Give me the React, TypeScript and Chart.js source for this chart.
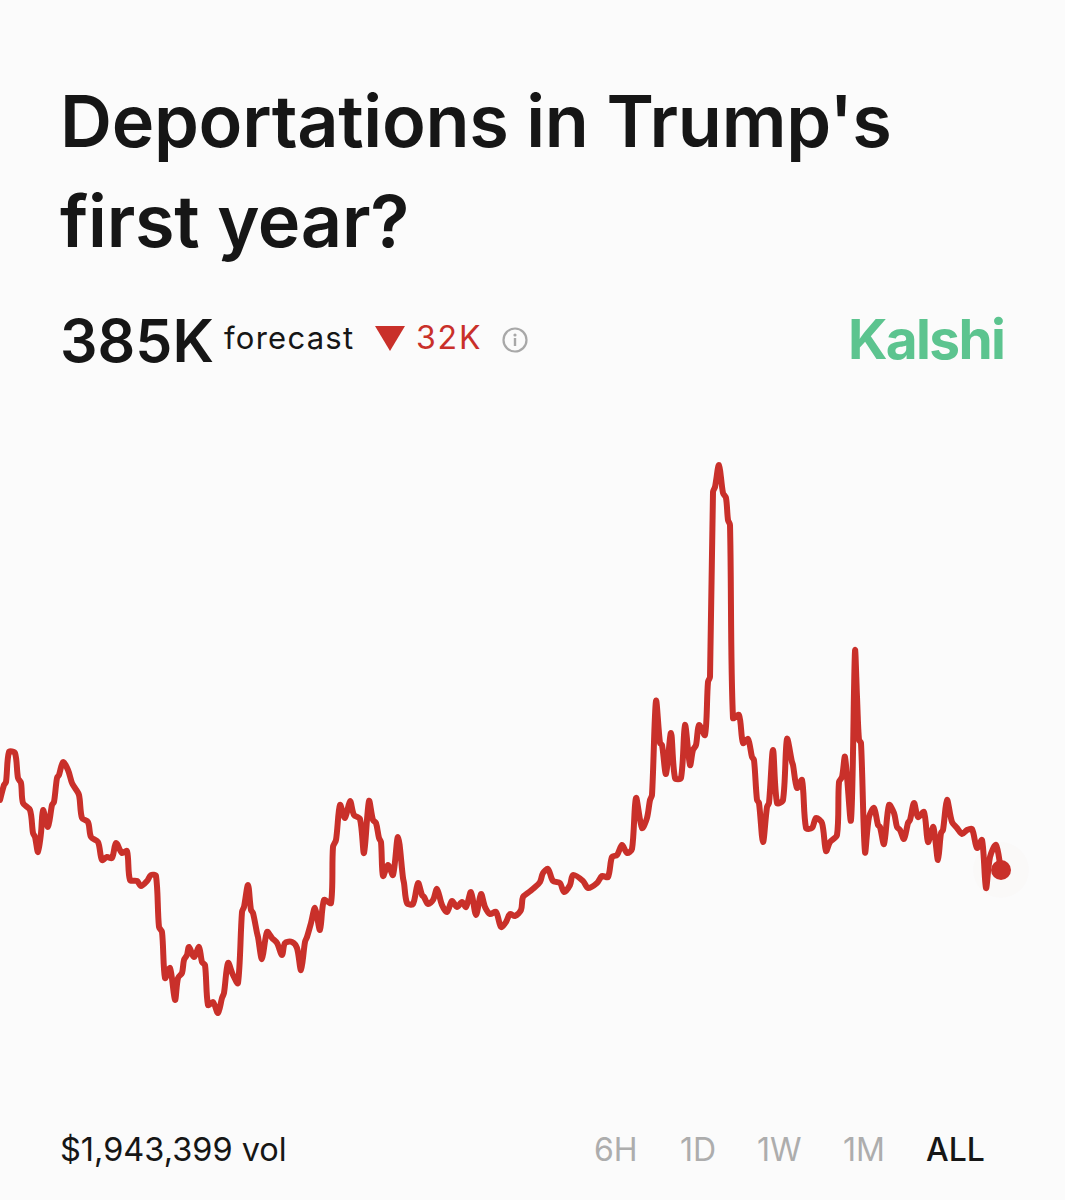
import { useEffect, useRef } from 'react';
import Chart from 'chart.js/auto';

// market hours since open
const hours = [
  0, 4, 6, 9, 15, 18, 21, 23, 30, 33, 35, 38, 41, 43, 48, 52, 54, 57, 59, 63,
  68, 72, 75, 79, 82, 88, 91, 98, 102, 107, 112, 116, 122, 127, 130, 137, 141, 147, 151, 156,
  159, 162, 165, 170, 175, 178, 182, 184, 187, 189, 194, 199, 202, 205, 208, 213, 218, 222, 224, 228,
  233, 238, 242, 244, 248, 251, 253, 257, 258, 262, 267, 272, 277, 282, 285, 292, 297, 301, 305, 307,
  311, 315, 320, 324, 331, 333, 336, 340, 345, 350, 354, 360, 364, 369, 373, 376, 379, 381, 383, 388,
  393, 398, 403, 404, 407, 413, 418, 422, 424, 428, 433, 437, 442, 447, 452, 457, 462, 466, 471, 476,
  481, 485, 490, 496, 501, 506, 510, 515, 521, 523, 529, 534, 540, 543, 548, 553, 560, 564, 570, 573,
  583, 588, 597, 602, 608, 612, 617, 622, 627, 632, 636, 642, 647, 650, 652, 656, 660, 662, 666, 671,
  675, 681, 685, 690, 693, 696, 699, 705, 708, 710, 713, 715, 719, 723, 726, 728, 730, 733, 739, 743,
  748, 752, 754, 757, 759, 763, 767, 769, 773, 777, 783, 787, 792, 793, 797, 802, 806, 812, 816, 822,
  826, 830, 837, 839, 842, 845, 851, 855, 857, 859, 861, 865, 869, 874, 878, 880, 884, 889, 894, 897,
  900, 904, 908, 910, 914, 918, 924, 928, 933, 935, 938, 941, 943, 947, 952, 957, 962, 967, 972, 977,
  982, 986, 990, 996, 1001,
];

// forecast in thousands of deportations
const forecastK = [
  420, 427.5, 429, 444, 443.5, 431, 428.5, 418.5, 415, 403.5, 401.5, 394, 403.5, 415, 406.5, 417.5, 419, 431, 432.5, 439,
  435, 428.5, 426, 422.5, 411, 409, 401.5, 399, 390, 391.5, 391, 398.5, 393.5, 394.5, 380, 379.5, 377, 379.5, 382.5, 382,
  356.5, 354, 331, 336, 320, 331, 333.5, 340, 342.5, 346.5, 341.5, 346.5, 339, 337.5, 317.5, 319, 313.5, 321, 323.5, 338.5,
  332.5, 328.5, 364, 366.5, 377.5, 365, 363.5, 353.5, 351.5, 340.5, 354, 351, 348.5, 342.5, 348.5, 349, 346, 335, 349, 351.5,
  358.5, 366, 355, 370, 368.5, 396.5, 400, 417.5, 411, 419.5, 412.5, 410.5, 393.5, 419.5, 410, 408.5, 401, 399, 382, 387.5,
  382.5, 401.5, 381, 378.5, 368.5, 368, 378.5, 372.5, 371.5, 368, 370, 375.5, 367.5, 364, 369.5, 366.5, 369, 366.5, 374, 362.5,
  373, 366.5, 363, 364, 356.5, 359, 363, 362, 365, 371.5, 374, 376, 379, 383.5, 385.5, 379.5, 378.5, 374, 377.5, 382.5,
  379.5, 376, 378.5, 382, 381.5, 391.5, 392.5, 397.5, 393.5, 395.5, 421, 406, 411, 420, 422.5, 469.5, 448.5, 447.5, 433, 453.5,
  431, 431, 457.5, 437.5, 445, 447.5, 457.5, 452.5, 479, 481.5, 574, 576.5, 587.5, 573.5, 571, 560, 557.5, 461, 462.5, 448.5,
  450.5, 441.5, 440, 420, 418.5, 399, 416.5, 418.5, 445, 418.5, 420, 450.5, 439, 437.5, 426, 430, 406, 406, 411, 408.5,
  394.5, 399, 402.5, 429, 431.5, 441.5, 410, 494.5, 471.5, 450, 448.5, 394, 411.5, 416, 407.5, 406.5, 398, 417.5, 413.5, 406.5,
  405, 400.5, 408.5, 410, 418.5, 411.5, 414, 399, 406.5, 401.5, 390, 403.5, 405, 420, 409, 406, 403, 405, 405.5, 396,
  400, 376, 391.5, 397.5, 385,
];

const timeframes = ['6H', '1D', '1W', '1M', 'ALL'];
const timeframeLeft = [594, 680, 757, 843, 926];

const RED = '#c9302a';
const INK = '#161616';
const FONT = 'Inter, sans-serif';

function Label({ left, top, size, weight = 400, color = INK, spacing = 0, children }: any) {
  return (
    <div
      style={{
        position: 'absolute',
        left,
        top,
        fontSize: size,
        fontWeight: weight,
        color,
        letterSpacing: spacing,
        lineHeight: 1,
        whiteSpace: 'nowrap',
      }}
    >
      {children}
    </div>
  );
}

export default function App() {
  const chartRef = useRef<HTMLCanvasElement>(null);

  useEffect(() => {
    document.body.style.margin = '0';
    if (!chartRef.current) return;
    const points = hours.map((h, i) => ({ x: h, y: forecastK[i] }));
    const last = points[points.length - 1];

    const chart = new Chart(chartRef.current, {
      type: 'line',
      data: {
        datasets: [
          {
            data: points,
            borderColor: RED,
            borderWidth: 6,
            borderJoinStyle: 'round',
            borderCapStyle: 'round',
            tension: 0.3,
            pointRadius: 0,
            order: 2,
          },
          {
            // end marker with its faint halo
            data: [last],
            pointRadius: 28,
            pointBackgroundColor: 'rgba(201,48,42,0.012)',
            pointBorderWidth: 0,
            showLine: false,
            order: 3,
          },
          {
            data: [last],
            pointRadius: 10,
            pointBackgroundColor: RED,
            pointBorderWidth: 0,
            showLine: false,
            order: 1,
          },
        ],
      },
      options: {
        animation: false,
        responsive: false,
        maintainAspectRatio: false,
        layout: { padding: 0, autoPadding: false },
        plugins: { legend: { display: false }, tooltip: { enabled: false } },
        scales: {
          x: { type: 'linear', display: false, min: 0, max: 1065 },
          y: { type: 'linear', display: false, min: 270, max: 620 },
        },
      },
    });

    return () => chart.destroy();
  }, []);

  return (
    <div
      style={{
        position: 'relative',
        width: 1065,
        height: 1200,
        overflow: 'hidden',
        background: '#fbfbfb',
        fontFamily: FONT,
      }}
    >
      <Label left={60} top={85} size={72} weight={600} spacing={-0.3}>Deportations in Trump's</Label>
      <Label left={60} top={185} size={72} weight={600} spacing={-0.3}>first year?</Label>

      <Label left={60} top={311} size={59} weight={600}>385K</Label>
      <Label left={224} top={322} size={31} spacing={1.25}>forecast</Label>
      <svg style={{ position: 'absolute', left: 375, top: 326 }} width={30} height={25}>
        <polygon points="0,0 30,0 15,25" fill={RED} />
      </svg>
      <Label left={416} top={322} size={32} color={RED} spacing={1.8}>32K</Label>
      <svg style={{ position: 'absolute', left: 502, top: 327 }} width={26} height={26} viewBox="0 0 26 26">
        <circle cx={13} cy={13} r={11.5} fill="none" stroke="#a8a8a8" strokeWidth={2.2} />
        <circle cx={13} cy={8} r={1.6} fill="#a8a8a8" />
        <rect x={11.8} y={11} width={2.4} height={8} fill="#a8a8a8" />
      </svg>
      <Label left={848} top={312} size={55} weight={700} color="#5cc48f" spacing={-1.7}>Kalshi</Label>

      <canvas
        ref={chartRef}
        width={1065}
        height={700}
        style={{ position: 'absolute', left: 0, top: 400, display: 'block' }}
      />

      <Label left={60} top={1134} size={32.5}>$1,943,399 vol</Label>
      {timeframes.map((t, i) => (
        <Label key={t} left={timeframeLeft[i]} top={1134} size={32} weight={t === 'ALL' ? 500 : 400} color={t === 'ALL' ? INK : '#adadad'}>
          {t}
        </Label>
      ))}
    </div>
  );
}
